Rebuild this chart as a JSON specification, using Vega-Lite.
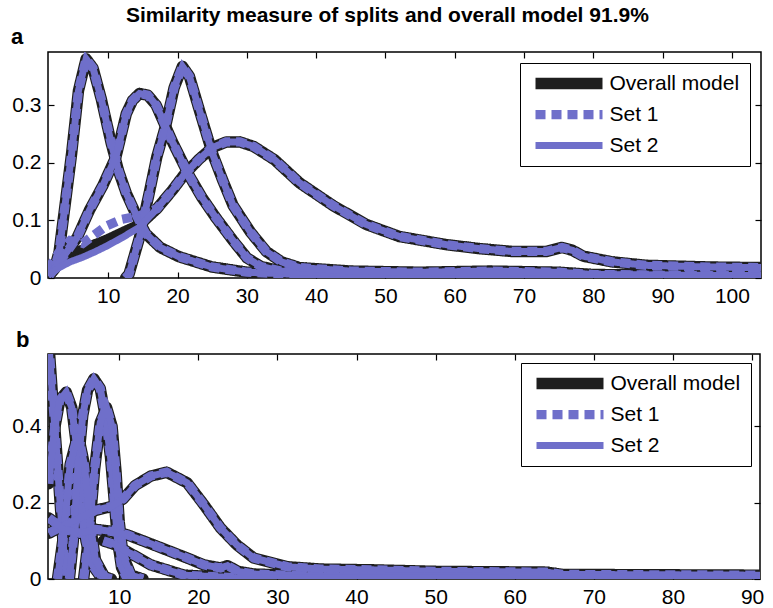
{
  "$schema": "https://vega.github.io/schema/vega-lite/v6.json",
  "background": "white",
  "padding": {"left": 10, "top": 4, "right": 5, "bottom": 0},
  "title": {"text": "Similarity measure of splits and overall model 91.9%", "fontSize": 21, "fontWeight": "bold", "font": "Liberation Sans", "color": "black", "anchor": "middle", "offset": 0},
  "config": {
    "view": {"stroke": "black", "strokeWidth": 1.5},
    "axis": {"grid": false, "domain": false, "labelFont": "Liberation Sans", "labelFontSize": 21, "labelColor": "black", "tickColor": "black", "tickSize": -6, "tickWidth": 1.2, "labelPadding": 13, "title": null},
    "legend": {"labelFont": "Liberation Sans", "labelFontSize": 21, "labelColor": "black"}
  },
  "data": {"values": [
    {"p":"a","c":"A","x":1.5,"o":0.005,"s1":0.005,"s2":0.005},
    {"p":"a","c":"A","x":2.2,"o":0.015,"s1":0.015,"s2":0.015},
    {"p":"a","c":"A","x":2.9,"o":0.045,"s1":0.045,"s2":0.045},
    {"p":"a","c":"A","x":3.8,"o":0.13,"s1":0.13,"s2":0.13},
    {"p":"a","c":"A","x":4.7,"o":0.215,"s1":0.215,"s2":0.215},
    {"p":"a","c":"A","x":5.7,"o":0.325,"s1":0.325,"s2":0.325},
    {"p":"a","c":"A","x":6.8,"o":0.38,"s1":0.38,"s2":0.38},
    {"p":"a","c":"A","x":7.8,"o":0.364,"s1":0.364,"s2":0.364},
    {"p":"a","c":"A","x":9,"o":0.31,"s1":0.31,"s2":0.31},
    {"p":"a","c":"A","x":10.4,"o":0.235,"s1":0.235,"s2":0.235},
    {"p":"a","c":"A","x":11.5,"o":0.185,"s1":0.185,"s2":0.185},
    {"p":"a","c":"A","x":12.6,"o":0.147,"s1":0.147,"s2":0.147},
    {"p":"a","c":"A","x":14,"o":0.11,"s1":0.11,"s2":0.11},
    {"p":"a","c":"A","x":15.4,"o":0.077,"s1":0.077,"s2":0.077},
    {"p":"a","c":"A","x":17.5,"o":0.053,"s1":0.053,"s2":0.053},
    {"p":"a","c":"A","x":20.2,"o":0.037,"s1":0.037,"s2":0.037},
    {"p":"a","c":"A","x":25,"o":0.019,"s1":0.019,"s2":0.019},
    {"p":"a","c":"A","x":30,"o":0.01,"s1":0.01,"s2":0.01},
    {"p":"a","c":"A","x":40,"o":0.005,"s1":0.005,"s2":0.005},
    {"p":"a","c":"A","x":60,"o":0.003,"s1":0.003,"s2":0.003},
    {"p":"a","c":"A","x":104.2,"o":0.002,"s1":0.002,"s2":0.002},
    {"p":"a","c":"B","x":1.5,"o":0.005,"s1":0.005,"s2":0.005},
    {"p":"a","c":"B","x":2.5,"o":0.02,"s1":0.02,"s2":0.02},
    {"p":"a","c":"B","x":4,"o":0.045,"s1":0.045,"s2":0.045},
    {"p":"a","c":"B","x":5.5,"o":0.07,"s1":0.07,"s2":0.07},
    {"p":"a","c":"B","x":7.3,"o":0.118,"s1":0.118,"s2":0.118},
    {"p":"a","c":"B","x":9.2,"o":0.16,"s1":0.16,"s2":0.16},
    {"p":"a","c":"B","x":11.1,"o":0.21,"s1":0.21,"s2":0.21},
    {"p":"a","c":"B","x":12.6,"o":0.285,"s1":0.285,"s2":0.285},
    {"p":"a","c":"B","x":13.5,"o":0.308,"s1":0.308,"s2":0.308},
    {"p":"a","c":"B","x":14.5,"o":0.32,"s1":0.32,"s2":0.32},
    {"p":"a","c":"B","x":15.7,"o":0.317,"s1":0.317,"s2":0.317},
    {"p":"a","c":"B","x":16.9,"o":0.3,"s1":0.3,"s2":0.3},
    {"p":"a","c":"B","x":18,"o":0.27,"s1":0.27,"s2":0.27},
    {"p":"a","c":"B","x":19.3,"o":0.235,"s1":0.235,"s2":0.235},
    {"p":"a","c":"B","x":21.7,"o":0.177,"s1":0.177,"s2":0.177},
    {"p":"a","c":"B","x":23.5,"o":0.14,"s1":0.14,"s2":0.14},
    {"p":"a","c":"B","x":25.5,"o":0.105,"s1":0.105,"s2":0.105},
    {"p":"a","c":"B","x":28,"o":0.065,"s1":0.065,"s2":0.065},
    {"p":"a","c":"B","x":30,"o":0.035,"s1":0.035,"s2":0.035},
    {"p":"a","c":"B","x":32,"o":0.02,"s1":0.02,"s2":0.02},
    {"p":"a","c":"B","x":35,"o":0.012,"s1":0.012,"s2":0.012},
    {"p":"a","c":"B","x":45,"o":0.008,"s1":0.008,"s2":0.008},
    {"p":"a","c":"B","x":60,"o":0.006,"s1":0.006,"s2":0.006},
    {"p":"a","c":"B","x":104.2,"o":0.004,"s1":0.004,"s2":0.004},
    {"p":"a","c":"C","x":12.5,"o":0,"s1":0,"s2":0},
    {"p":"a","c":"C","x":13,"o":0.007,"s1":0.007,"s2":0.007},
    {"p":"a","c":"C","x":14.5,"o":0.07,"s1":0.07,"s2":0.07},
    {"p":"a","c":"C","x":15.9,"o":0.147,"s1":0.147,"s2":0.147},
    {"p":"a","c":"C","x":17,"o":0.21,"s1":0.21,"s2":0.21},
    {"p":"a","c":"C","x":18.3,"o":0.265,"s1":0.265,"s2":0.265},
    {"p":"a","c":"C","x":19.5,"o":0.33,"s1":0.33,"s2":0.33},
    {"p":"a","c":"C","x":20.7,"o":0.367,"s1":0.367,"s2":0.367},
    {"p":"a","c":"C","x":21.7,"o":0.35,"s1":0.35,"s2":0.35},
    {"p":"a","c":"C","x":23.1,"o":0.293,"s1":0.293,"s2":0.293},
    {"p":"a","c":"C","x":25,"o":0.217,"s1":0.217,"s2":0.217},
    {"p":"a","c":"C","x":26.5,"o":0.17,"s1":0.17,"s2":0.17},
    {"p":"a","c":"C","x":28,"o":0.126,"s1":0.126,"s2":0.126},
    {"p":"a","c":"C","x":30.5,"o":0.08,"s1":0.08,"s2":0.08},
    {"p":"a","c":"C","x":32.8,"o":0.046,"s1":0.046,"s2":0.046},
    {"p":"a","c":"C","x":35,"o":0.028,"s1":0.028,"s2":0.028},
    {"p":"a","c":"C","x":37.6,"o":0.018,"s1":0.018,"s2":0.018},
    {"p":"a","c":"C","x":45,"o":0.012,"s1":0.012,"s2":0.012},
    {"p":"a","c":"C","x":55,"o":0.01,"s1":0.01,"s2":0.01},
    {"p":"a","c":"C","x":65,"o":0.012,"s1":0.012,"s2":0.012},
    {"p":"a","c":"C","x":75,"o":0.01,"s1":0.01,"s2":0.01},
    {"p":"a","c":"C","x":80,"o":0.006,"s1":0.006,"s2":0.006},
    {"p":"a","c":"C","x":104.2,"o":0.004,"s1":0.004,"s2":0.004},
    {"p":"a","c":"D","x":1.3,"o":0.012,"s1":0.015,"s2":0.004},
    {"p":"a","c":"D","x":2.9,"o":0.03,"s1":0.045,"s2":0.018},
    {"p":"a","c":"D","x":4.5,"o":0.04,"s1":0.065,"s2":0.028},
    {"p":"a","c":"D","x":6.3,"o":0.048,"s1":0.06,"s2":0.036},
    {"p":"a","c":"D","x":8,"o":0.057,"s1":0.075,"s2":0.045},
    {"p":"a","c":"D","x":9.7,"o":0.065,"s1":0.09,"s2":0.055},
    {"p":"a","c":"D","x":12,"o":0.078,"s1":0.102,"s2":0.07},
    {"p":"a","c":"D","x":14.5,"o":0.092,"s1":0.108,"s2":0.088},
    {"p":"a","c":"D","x":17,"o":0.12,"s1":0.12,"s2":0.12},
    {"p":"a","c":"D","x":19.3,"o":0.153,"s1":0.153,"s2":0.153},
    {"p":"a","c":"D","x":21,"o":0.18,"s1":0.18,"s2":0.18},
    {"p":"a","c":"D","x":23.1,"o":0.206,"s1":0.206,"s2":0.206},
    {"p":"a","c":"D","x":25,"o":0.226,"s1":0.226,"s2":0.226},
    {"p":"a","c":"D","x":27,"o":0.236,"s1":0.236,"s2":0.236},
    {"p":"a","c":"D","x":29,"o":0.236,"s1":0.236,"s2":0.236},
    {"p":"a","c":"D","x":31,"o":0.228,"s1":0.228,"s2":0.228},
    {"p":"a","c":"D","x":34,"o":0.205,"s1":0.205,"s2":0.205},
    {"p":"a","c":"D","x":37.6,"o":0.165,"s1":0.165,"s2":0.165},
    {"p":"a","c":"D","x":42.4,"o":0.126,"s1":0.126,"s2":0.126},
    {"p":"a","c":"D","x":47.2,"o":0.093,"s1":0.093,"s2":0.093},
    {"p":"a","c":"D","x":52,"o":0.072,"s1":0.072,"s2":0.072},
    {"p":"a","c":"D","x":58.7,"o":0.058,"s1":0.058,"s2":0.058},
    {"p":"a","c":"D","x":63.5,"o":0.051,"s1":0.051,"s2":0.051},
    {"p":"a","c":"D","x":68.3,"o":0.046,"s1":0.046,"s2":0.046},
    {"p":"a","c":"D","x":73.2,"o":0.046,"s1":0.046,"s2":0.046},
    {"p":"a","c":"D","x":75.5,"o":0.053,"s1":0.053,"s2":0.053},
    {"p":"a","c":"D","x":77,"o":0.048,"s1":0.048,"s2":0.048},
    {"p":"a","c":"D","x":78.5,"o":0.038,"s1":0.038,"s2":0.038},
    {"p":"a","c":"D","x":82.7,"o":0.028,"s1":0.028,"s2":0.028},
    {"p":"a","c":"D","x":87.6,"o":0.022,"s1":0.022,"s2":0.022},
    {"p":"a","c":"D","x":97,"o":0.019,"s1":0.019,"s2":0.019},
    {"p":"a","c":"D","x":104.2,"o":0.018,"s1":0.018,"s2":0.018},
    {"p":"b","c":"b1","x":1.1,"o":0.62,"s1":0.62,"s2":0.62},
    {"p":"b","c":"b1","x":1.6,"o":0.47,"s1":0.47,"s2":0.47},
    {"p":"b","c":"b1","x":2.1,"o":0.33,"s1":0.33,"s2":0.33},
    {"p":"b","c":"b1","x":2.6,"o":0.18,"s1":0.18,"s2":0.18},
    {"p":"b","c":"b1","x":3,"o":0.07,"s1":0.07,"s2":0.07},
    {"p":"b","c":"b1","x":3.4,"o":0.01,"s1":0.01,"s2":0.01},
    {"p":"b","c":"b2","x":1.1,"o":0.25,"s1":0.25,"s2":0.25},
    {"p":"b","c":"b2","x":1.8,"o":0.39,"s1":0.39,"s2":0.39},
    {"p":"b","c":"b2","x":2.5,"o":0.47,"s1":0.47,"s2":0.47},
    {"p":"b","c":"b2","x":3.3,"o":0.49,"s1":0.49,"s2":0.49},
    {"p":"b","c":"b2","x":4,"o":0.45,"s1":0.45,"s2":0.45},
    {"p":"b","c":"b2","x":4.6,"o":0.35,"s1":0.35,"s2":0.35},
    {"p":"b","c":"b2","x":5.2,"o":0.2,"s1":0.2,"s2":0.2},
    {"p":"b","c":"b2","x":5.8,"o":0.1,"s1":0.1,"s2":0.1},
    {"p":"b","c":"b2","x":6.5,"o":0.04,"s1":0.04,"s2":0.04},
    {"p":"b","c":"b2","x":7.5,"o":0.01,"s1":0.01,"s2":0.01},
    {"p":"b","c":"b2","x":9,"o":0,"s1":0,"s2":0},
    {"p":"b","c":"b3","x":3.7,"o":0,"s1":0,"s2":0},
    {"p":"b","c":"b3","x":4.2,"o":0.1,"s1":0.1,"s2":0.1},
    {"p":"b","c":"b3","x":4.8,"o":0.3,"s1":0.3,"s2":0.3},
    {"p":"b","c":"b3","x":5.4,"o":0.43,"s1":0.43,"s2":0.43},
    {"p":"b","c":"b3","x":6,"o":0.495,"s1":0.495,"s2":0.495},
    {"p":"b","c":"b3","x":6.8,"o":0.525,"s1":0.525,"s2":0.525},
    {"p":"b","c":"b3","x":7.6,"o":0.5,"s1":0.5,"s2":0.5},
    {"p":"b","c":"b3","x":8.3,"o":0.42,"s1":0.42,"s2":0.42},
    {"p":"b","c":"b3","x":8.9,"o":0.32,"s1":0.32,"s2":0.32},
    {"p":"b","c":"b3","x":9.4,"o":0.2,"s1":0.2,"s2":0.2},
    {"p":"b","c":"b3","x":9.8,"o":0.1,"s1":0.1,"s2":0.1},
    {"p":"b","c":"b3","x":10.3,"o":0.03,"s1":0.03,"s2":0.03},
    {"p":"b","c":"b3","x":11,"o":0,"s1":0,"s2":0},
    {"p":"b","c":"b4","x":5.5,"o":0,"s1":0,"s2":0},
    {"p":"b","c":"b4","x":6.2,"o":0.12,"s1":0.12,"s2":0.12},
    {"p":"b","c":"b4","x":6.9,"o":0.29,"s1":0.29,"s2":0.29},
    {"p":"b","c":"b4","x":7.6,"o":0.41,"s1":0.41,"s2":0.41},
    {"p":"b","c":"b4","x":8.4,"o":0.45,"s1":0.45,"s2":0.45},
    {"p":"b","c":"b4","x":9.1,"o":0.4,"s1":0.4,"s2":0.4},
    {"p":"b","c":"b4","x":9.6,"o":0.28,"s1":0.28,"s2":0.28},
    {"p":"b","c":"b4","x":10,"o":0.15,"s1":0.15,"s2":0.15},
    {"p":"b","c":"b4","x":10.5,"o":0.06,"s1":0.06,"s2":0.06},
    {"p":"b","c":"b4","x":11.5,"o":0.01,"s1":0.01,"s2":0.01},
    {"p":"b","c":"b4","x":13,"o":0,"s1":0,"s2":0},
    {"p":"b","c":"b5","x":2.2,"o":0,"s1":0,"s2":0},
    {"p":"b","c":"b5","x":3,"o":0.12,"s1":0.12,"s2":0.12},
    {"p":"b","c":"b5","x":3.8,"o":0.3,"s1":0.3,"s2":0.3},
    {"p":"b","c":"b5","x":4.8,"o":0.38,"s1":0.38,"s2":0.38},
    {"p":"b","c":"b5","x":5.6,"o":0.3,"s1":0.3,"s2":0.3},
    {"p":"b","c":"b5","x":6.3,"o":0.15,"s1":0.15,"s2":0.15},
    {"p":"b","c":"b5","x":7,"o":0.05,"s1":0.05,"s2":0.05},
    {"p":"b","c":"b5","x":8.3,"o":0,"s1":0,"s2":0},
    {"p":"b","c":"b6","x":1.1,"o":0.12,"s1":0.12,"s2":0.12},
    {"p":"b","c":"b6","x":3,"o":0.14,"s1":0.14,"s2":0.14},
    {"p":"b","c":"b6","x":5,"o":0.16,"s1":0.16,"s2":0.16},
    {"p":"b","c":"b6","x":7,"o":0.18,"s1":0.18,"s2":0.18},
    {"p":"b","c":"b6","x":9,"o":0.19,"s1":0.19,"s2":0.19},
    {"p":"b","c":"b6","x":10.5,"o":0.21,"s1":0.21,"s2":0.21},
    {"p":"b","c":"b6","x":12,"o":0.245,"s1":0.245,"s2":0.245},
    {"p":"b","c":"b6","x":14,"o":0.27,"s1":0.27,"s2":0.27},
    {"p":"b","c":"b6","x":16,"o":0.28,"s1":0.28,"s2":0.28},
    {"p":"b","c":"b6","x":18.6,"o":0.252,"s1":0.252,"s2":0.252},
    {"p":"b","c":"b6","x":20.7,"o":0.195,"s1":0.195,"s2":0.195},
    {"p":"b","c":"b6","x":22.8,"o":0.134,"s1":0.134,"s2":0.134},
    {"p":"b","c":"b6","x":24.9,"o":0.089,"s1":0.089,"s2":0.089},
    {"p":"b","c":"b6","x":27,"o":0.055,"s1":0.055,"s2":0.055},
    {"p":"b","c":"b6","x":31.3,"o":0.032,"s1":0.032,"s2":0.032},
    {"p":"b","c":"b6","x":35.5,"o":0.026,"s1":0.026,"s2":0.026},
    {"p":"b","c":"b6","x":42,"o":0.024,"s1":0.024,"s2":0.024},
    {"p":"b","c":"b6","x":50,"o":0.02,"s1":0.02,"s2":0.02},
    {"p":"b","c":"b6","x":64,"o":0.018,"s1":0.018,"s2":0.018},
    {"p":"b","c":"b6","x":66,"o":0.012,"s1":0.012,"s2":0.012},
    {"p":"b","c":"b6","x":91,"o":0.01,"s1":0.01,"s2":0.01},
    {"p":"b","c":"b7","x":1.1,"o":0.16,"s1":0.16,"s2":0.16},
    {"p":"b","c":"b7","x":3,"o":0.13,"s1":0.13,"s2":0.13},
    {"p":"b","c":"b7","x":5,"o":0.12,"s1":0.12,"s2":0.12},
    {"p":"b","c":"b7","x":7,"o":0.13,"s1":0.13,"s2":0.13},
    {"p":"b","c":"b7","x":9,"o":0.125,"s1":0.125,"s2":0.125},
    {"p":"b","c":"b7","x":11,"o":0.116,"s1":0.116,"s2":0.116},
    {"p":"b","c":"b7","x":14.4,"o":0.089,"s1":0.089,"s2":0.089},
    {"p":"b","c":"b7","x":18.6,"o":0.055,"s1":0.055,"s2":0.055},
    {"p":"b","c":"b7","x":20.7,"o":0.037,"s1":0.037,"s2":0.037},
    {"p":"b","c":"b7","x":22.8,"o":0.029,"s1":0.029,"s2":0.029},
    {"p":"b","c":"b7","x":23.7,"o":0.035,"s1":0.035,"s2":0.035},
    {"p":"b","c":"b7","x":25,"o":0.02,"s1":0.02,"s2":0.02},
    {"p":"b","c":"b7","x":27,"o":0.013,"s1":0.013,"s2":0.013},
    {"p":"b","c":"b7","x":35,"o":0.008,"s1":0.008,"s2":0.008},
    {"p":"b","c":"b7","x":91,"o":0.005,"s1":0.005,"s2":0.005},
    {"p":"b","c":"b8","x":8,"o":0.1,"s1":0.1,"s2":0.1},
    {"p":"b","c":"b8","x":9.5,"o":0.09,"s1":0.09,"s2":0.09},
    {"p":"b","c":"b8","x":11,"o":0.072,"s1":0.072,"s2":0.072},
    {"p":"b","c":"b8","x":14,"o":0.037,"s1":0.037,"s2":0.037},
    {"p":"b","c":"b8","x":18.2,"o":0.01,"s1":0.01,"s2":0.01},
    {"p":"b","c":"b8","x":25,"o":0.003,"s1":0.003,"s2":0.003},
    {"p":"b","c":"b8","x":91,"o":0.002,"s1":0.002,"s2":0.002}
  ]},
  "transform": [{"fold": ["o", "s1", "s2"], "as": ["series", "val"]}],
  "spacing": 21,
  "resolve": {"scale": {"x": "independent", "y": "independent", "color": "independent", "strokeDash": "independent", "strokeWidth": "independent"}, "legend": {"color": "independent", "strokeDash": "independent", "strokeWidth": "independent"}},
  "vconcat": [
    {
      "width": 713, "height": 226,
      "title": {"text": "a", "anchor": "start", "frame": "group", "fontSize": 22, "fontWeight": "bold", "font": "Liberation Sans", "color": "black", "dx": -37, "offset": 2},
      "transform": [{"filter": "datum.p == 'a'"}],
      "encoding": {
        "x": {"field": "x", "type": "quantitative", "scale": {"domain": [1.3, 104.2], "nice": false, "zero": false}},
        "y": {"field": "val", "type": "quantitative", "scale": {"domain": [0, 0.392], "nice": false}},
        "color": {"field": "series", "type": "nominal", "scale": {"domain": ["o", "s1", "s2"], "range": ["#1e1e1e", "#6f6fca", "#6f6fca"]},
          "legend": {"orient": "top-right", "offset": 11, "title": null, "fillColor": "white", "strokeColor": "black", "padding": 10, "rowPadding": 9, "symbolType": "M-16.75,0H16.75", "symbolSize": 16, "symbolOffset": 28.5, "labelOffset": 30, "labelExpr": "datum.label == 'o' ? 'Overall model' : datum.label == 's1' ? 'Set 1' : 'Set 2'", "encode": {"symbols": {"update": {"strokeJoin": {"value": "round"}}}}}},
        "strokeDash": {"field": "series", "type": "nominal", "scale": {"domain": ["o", "s1", "s2"], "range": [[1, 0], [10, 6], [1, 0]]}, "legend": {"orient": "top-right", "title": null, "labelExpr": "datum.label == 'o' ? 'Overall model' : datum.label == 's1' ? 'Set 1' : 'Set 2'"}},
        "strokeWidth": {"field": "series", "type": "nominal", "scale": {"domain": ["o", "s1", "s2"], "range": [11.5, 7, 7]}, "legend": {"orient": "top-right", "title": null, "labelExpr": "datum.label == 'o' ? 'Overall model' : datum.label == 's1' ? 'Set 1' : 'Set 2'"}},
        "detail": {"field": "c"}
      },
      "resolve": {"axis": {"x": "independent", "y": "independent"}},
      "layer": [
        {"transform": [{"filter": "datum.series == 'o'"}], "mark": {"type": "line", "clip": true, "strokeCap": "round", "strokeJoin": "round"},
         "encoding": {"x": {"field": "x", "type": "quantitative", "axis": {"values": [10,20,30,40,50,60,70,80,90,100], "orient": "bottom"}}, "y": {"field": "val", "type": "quantitative", "axis": {"values": [0, 0.1, 0.2, 0.3], "format": "~g", "orient": "left"}}}},
        {"transform": [{"filter": "datum.series == 's1'"}], "mark": {"type": "line", "clip": true},
         "encoding": {"x": {"field": "x", "type": "quantitative", "axis": {"values": [10,20,30,40,50,60,70,80,90,100], "orient": "top", "labels": false}}, "y": {"field": "val", "type": "quantitative", "axis": {"values": [0, 0.1, 0.2, 0.3], "orient": "right", "labels": false}}}},
        {"transform": [{"filter": "datum.series == 's2'"}], "mark": {"type": "line", "clip": true},
         "encoding": {"x": {"field": "x", "type": "quantitative", "axis": null}, "y": {"field": "val", "type": "quantitative", "axis": null}}}
      ]
    },
    {
      "width": 712, "height": 225,
      "title": {"text": "b", "anchor": "start", "frame": "group", "fontSize": 22, "fontWeight": "bold", "font": "Liberation Sans", "color": "black", "dx": -32, "offset": 1},
      "transform": [{"filter": "datum.p == 'b'"}],
      "encoding": {
        "x": {"field": "x", "type": "quantitative", "scale": {"domain": [1, 91], "nice": false, "zero": false}},
        "y": {"field": "val", "type": "quantitative", "scale": {"domain": [0, 0.59], "nice": false}},
        "color": {"field": "series", "type": "nominal", "scale": {"domain": ["o", "s1", "s2"], "range": ["#1e1e1e", "#6f6fca", "#6f6fca"]},
          "legend": {"orient": "top-right", "offset": 9, "title": null, "fillColor": "white", "strokeColor": "black", "padding": 10, "rowPadding": 9, "symbolType": "M-16.75,0H16.75", "symbolSize": 16, "symbolOffset": 28.5, "labelOffset": 30, "labelExpr": "datum.label == 'o' ? 'Overall model' : datum.label == 's1' ? 'Set 1' : 'Set 2'", "encode": {"symbols": {"update": {"strokeJoin": {"value": "round"}}}}}},
        "strokeDash": {"field": "series", "type": "nominal", "scale": {"domain": ["o", "s1", "s2"], "range": [[1, 0], [10, 6], [1, 0]]}, "legend": {"orient": "top-right", "title": null, "labelExpr": "datum.label == 'o' ? 'Overall model' : datum.label == 's1' ? 'Set 1' : 'Set 2'"}},
        "strokeWidth": {"field": "series", "type": "nominal", "scale": {"domain": ["o", "s1", "s2"], "range": [11.5, 7, 7]}, "legend": {"orient": "top-right", "title": null, "labelExpr": "datum.label == 'o' ? 'Overall model' : datum.label == 's1' ? 'Set 1' : 'Set 2'"}},
        "detail": {"field": "c"}
      },
      "resolve": {"axis": {"x": "independent", "y": "independent"}},
      "layer": [
        {"transform": [{"filter": "datum.series == 'o'"}], "mark": {"type": "line", "clip": true, "strokeCap": "round", "strokeJoin": "round"},
         "encoding": {"x": {"field": "x", "type": "quantitative", "axis": {"values": [10,20,30,40,50,60,70,80,90], "orient": "bottom"}}, "y": {"field": "val", "type": "quantitative", "axis": {"values": [0, 0.2, 0.4], "format": "~g", "orient": "left"}}}},
        {"transform": [{"filter": "datum.series == 's1'"}], "mark": {"type": "line", "clip": true},
         "encoding": {"x": {"field": "x", "type": "quantitative", "axis": {"values": [10,20,30,40,50,60,70,80,90], "orient": "top", "labels": false}}, "y": {"field": "val", "type": "quantitative", "axis": {"values": [0, 0.2, 0.4], "orient": "right", "labels": false}}}},
        {"transform": [{"filter": "datum.series == 's2'"}], "mark": {"type": "line", "clip": true},
         "encoding": {"x": {"field": "x", "type": "quantitative", "axis": null}, "y": {"field": "val", "type": "quantitative", "axis": null}}}
      ]
    }
  ]
}
